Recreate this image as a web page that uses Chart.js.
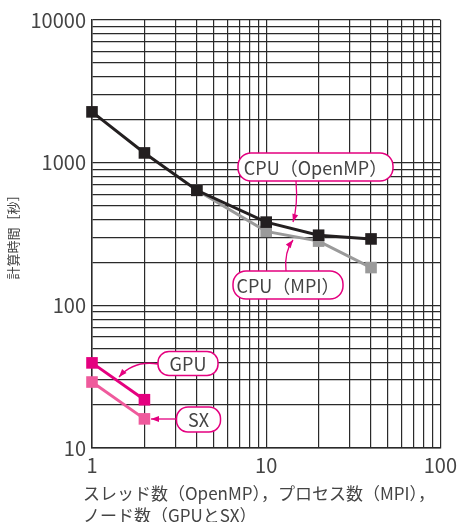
<!DOCTYPE html>
<html>
<head>
<meta charset="utf-8">
<script src="https://cdn.jsdelivr.net/npm/chart.js@4"></script>
<style>
  html, body { margin: 0; padding: 0; background: #fff; }
  #wrap { width: 462px; height: 522px; position: relative; }
</style>
</head>
<body>
<div id="wrap"><canvas id="perfChart"></canvas></div>
<script>
// データ
const threads = [1, 2, 4, 10, 20, 40];
const openmpTimes = [2270, 1170, 640, 383, 310, 292];
const procs = [4, 10, 20, 40];
const mpiTimes = [640, 330, 282, 184];
const nodes = [1, 2];
const gpuTimes = [39.5, 21.8];
const sxTimes = [29, 16];

const xTickLabels = ['1', '10', '100'];
const yTickLabels = ['10', '100', '1000', '10000'];

const FONT = "'Noto Sans CJK JP', 'Noto Sans', sans-serif";
const MAGENTA = '#e4007f';
const TEXT = '#444';

function logGrid(min, max) {
    const vals = [];
    for (let d = min; d < max; d *= 10) {
        for (let k = 1; k < 10; k++) vals.push(d * k);
    }
    vals.push(max);
    return vals;
}

function pts(xs, ys) {
    return xs.map(function(x, i) { return { x: x, y: ys[i] }; });
}

function series(label, xs, ys, color) {
    return {
        label: label,
        data: pts(xs, ys),
        borderColor: color,
        backgroundColor: color,
        borderWidth: 3,
        pointStyle: 'rect',
        pointRadius: 8.2,
        pointBorderWidth: 0,
        clip: false
    };
}

// 吹き出しラベル
const callouts = [
    { text: 'CPU（OpenMP）', box: [223.5, 147, 155, 28], path: [[204, 161], [206, 185], [201, 202]] },
    { text: 'CPU（MPI）', box: [196, 265, 110, 28], path: [[194, 251], [192, 232], [201, 220]] },
    { text: 'GPU', box: [96, 343.5, 60, 24], path: [[66, 344], [42, 340], [27, 357]] },
    { text: 'SX', box: [106.5, 399.5, 44, 25], path: [[85, 399], [72, 399], [59, 399]] }
];

const calloutPlugin = {
    id: 'callouts',
    afterDatasetsDraw: function(chart) {
        const ctx = chart.ctx;
        const L = chart.chartArea.left, T = chart.chartArea.top;
        ctx.save();
        callouts.forEach(function(c) {
            const p = c.path;
            // 引き出し線
            ctx.strokeStyle = MAGENTA;
            ctx.lineWidth = 1.3;
            ctx.beginPath();
            ctx.moveTo(L + p[0][0], T + p[0][1]);
            ctx.quadraticCurveTo(L + p[1][0], T + p[1][1], L + p[2][0], T + p[2][1]);
            ctx.stroke();
            // 矢印
            const ang = Math.atan2(p[2][1] - p[1][1], p[2][0] - p[1][0]);
            const tx = L + p[2][0], ty = T + p[2][1];
            ctx.fillStyle = MAGENTA;
            ctx.beginPath();
            ctx.moveTo(tx, ty);
            ctx.lineTo(tx - 8 * Math.cos(ang) + 3 * Math.sin(ang), ty - 8 * Math.sin(ang) - 3 * Math.cos(ang));
            ctx.lineTo(tx - 8 * Math.cos(ang) - 3 * Math.sin(ang), ty - 8 * Math.sin(ang) + 3 * Math.cos(ang));
            ctx.closePath();
            ctx.fill();
            // ボックス
            const b = c.box;
            const bx = L + b[0] - b[2] / 2, by = T + b[1] - b[3] / 2;
            ctx.fillStyle = '#fff';
            ctx.strokeStyle = MAGENTA;
            ctx.lineWidth = 1.5;
            ctx.beginPath();
            ctx.roundRect(bx, by, b[2], b[3], b[3] / 2 - 1);
            ctx.fill();
            ctx.stroke();
            ctx.fillStyle = TEXT;
            ctx.font = '18px ' + FONT;
            ctx.textAlign = 'center';
            ctx.textBaseline = 'middle';
            ctx.fillText(c.text, L + b[0], T + b[1] + 1);
        });
        ctx.restore();
    },
    afterDraw: function(chart) {
        // 横軸タイトル(左寄せ2行)
        const ctx = chart.ctx;
        ctx.save();
        ctx.fillStyle = TEXT;
        ctx.font = '17px ' + FONT;
        ctx.textAlign = 'left';
        ctx.textBaseline = 'middle';
        ctx.fillText('スレッド数（OpenMP），プロセス数（MPI），', 83, 494);
        ctx.fillText('ノード数（GPUとSX）', 83, 516);
        ctx.restore();
    }
};

document.addEventListener('DOMContentLoaded', function() {
    const ctx = document.getElementById('perfChart').getContext('2d');
    new Chart(ctx, {
        type: 'line',
        data: {
            datasets: [
                series('CPU(OpenMP)', threads, openmpTimes, '#231f20'),
                series('CPU(MPI)', procs, mpiTimes, '#9a9a9a'),
                series('GPU', nodes, gpuTimes, '#e4007f'),
                series('SX', nodes, sxTimes, '#ef5a9c')
            ]
        },
        options: {
            responsive: true,
            maintainAspectRatio: false,
            animation: false,
            layout: { padding: { top: 20, right: 18, left: 0, bottom: 0 } },
            plugins: {
                legend: { display: false },
                tooltip: { enabled: false }
            },
            scales: {
                x: {
                    type: 'logarithmic',
                    min: 1,
                    max: 100,
                    afterBuildTicks: function(scale) {
                        scale.ticks = logGrid(1, 100).map(function(v) { return { value: v }; });
                    },
                    afterFit: function(scale) { scale.height = 74; },
                    grid: { color: '#2a2a2a', lineWidth: 1.2, drawTicks: false },
                    border: { color: '#2a2a2a', width: 1.5 },
                    ticks: {
                        autoSkip: false,
                        maxRotation: 0,
                        padding: 5,
                        color: TEXT,
                        font: { family: FONT, size: 20 },
                        callback: function(value) {
                            const i = Math.log10(value);
                            return Number.isInteger(Math.round(i * 1e6) / 1e6) ? xTickLabels[Math.round(i)] : '';
                        }
                    }
                },
                y: {
                    type: 'logarithmic',
                    min: 10,
                    max: 10000,
                    afterBuildTicks: function(scale) {
                        scale.ticks = logGrid(10, 10000).map(function(v) { return { value: v }; });
                    },
                    afterFit: function(scale) { scale.width = 92; },
                    grid: { color: '#2a2a2a', lineWidth: 1.2, drawTicks: false },
                    border: { color: '#2a2a2a', width: 1.5 },
                    title: {
                        display: true,
                        text: '計算時間［秒］',
                        color: TEXT,
                        font: { family: FONT, size: 13 },
                        padding: { top: 5, bottom: 0 }
                    },
                    ticks: {
                        autoSkip: false,
                        padding: 6,
                        color: TEXT,
                        font: { family: FONT, size: 20 },
                        callback: function(value) {
                            const i = Math.log10(value);
                            return Number.isInteger(Math.round(i * 1e6) / 1e6) ? yTickLabels[Math.round(i) - 1] : '';
                        }
                    }
                }
            }
        },
        plugins: [calloutPlugin]
    });
});
</script>
</body>
</html>
